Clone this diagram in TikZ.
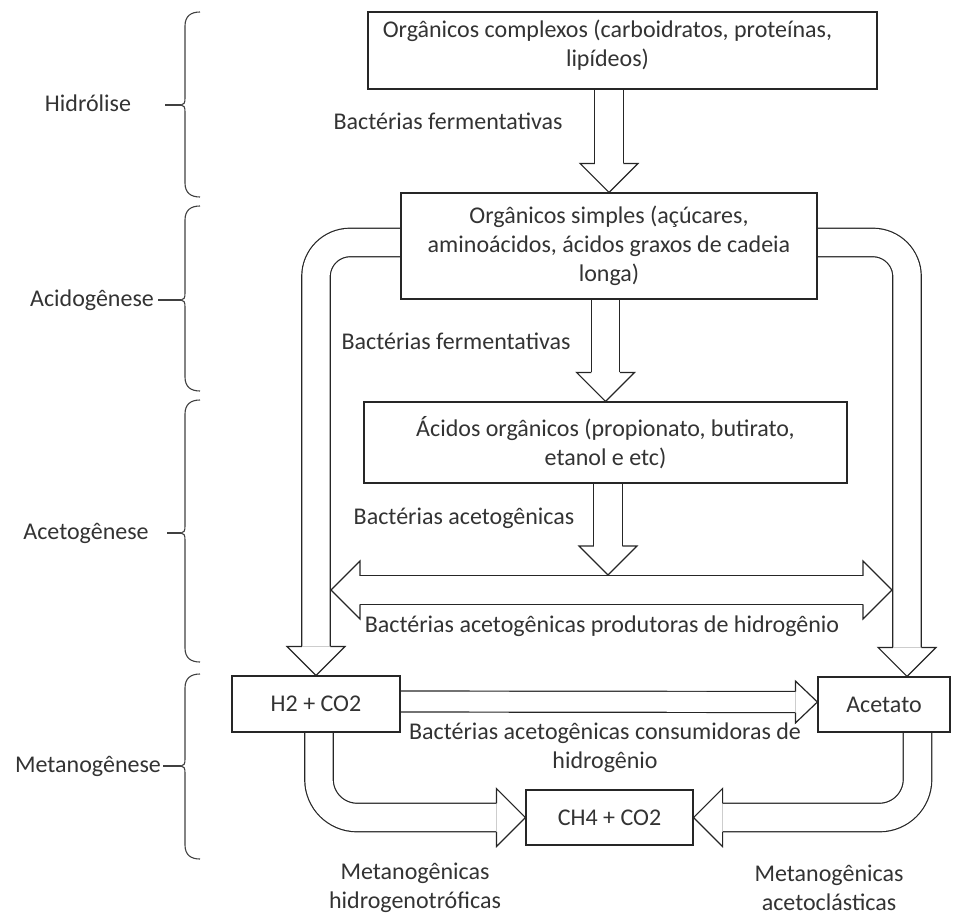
\documentclass[tikz,border=0pt]{standalone}
\usepackage{fontspec}
\setmainfont{Carlito}
\usetikzlibrary{backgrounds}
% chave de fase : topo, meio, base, inicio do traco
\newcommand\fase[4]{%
  \draw[chave] (200,#1) .. controls (191,#1) and (185,#1+4) .. (185,#1+14)
    -- (185,#2-7) .. controls (185,#2-2) and (184,#2) .. (181,#2)
    .. controls (184,#2) and (185,#2+2) .. (185,#2+7)
    -- (185,#3-14) .. controls (185,#3-4) and (191,#3) .. (200,#3);
  \draw[chave] (#4,#2) -- (181,#2);}
\begin{document}
\begin{tikzpicture}[x=1pt,y=-1pt,font=\fontsize{24}{29}\selectfont,text=black!80,
  caixa/.style={draw=black!85,line width=1.2pt,fill=white,inner sep=0pt,align=center},
  texto/.style={inner sep=0pt,align=center},
  linha/.style={texto,text height=18pt,text depth=6pt},
  chave/.style={line width=1.1pt,black!75},
  haste/.style={draw=black!85,line width=1.2pt,double=white,double distance=27.3pt},
  hastefina/.style={haste,double distance=19.8pt},
  ponta/.pic={\draw[line width=1.2pt,black!85,miter limit=20]
    (-29pt,14.25pt) -- (-29pt,29pt) -- (0,0) -- (-29pt,-29pt) -- (-29pt,-14.25pt);},
  pontafina/.pic={\draw[line width=1.2pt,black!85,miter limit=20]
    (-22pt,10.5pt) -- (-22pt,21pt) -- (0,0) -- (-22pt,-21pt) -- (-22pt,-10.5pt);}]
\useasboundingbox (0,0) rectangle (976,921);
%					Fases :
\node[linha] (hidro) at (88,105) {Hidrólise};
\node[linha] (acido) at (92,300) {Acidogênese};
\node[linha] (aceto) at (86,533) {Acetogênese};
\node[linha] (metano) at (88,766) {Metanogênese};
\fase{12}{105}{197}{165}
\fase{206}{300}{391}{158}
\fase{400}{533}{662}{167}
\fase{674}{766}{859}{163}
%					Caixas :
\node[caixa,minimum width=509pt,minimum height=77pt,
  label={[texto,xshift=-15pt,yshift=5pt]center:Orgânicos complexos (carboidratos, proteínas,\\lipídeos)}]
  (b1) at (622.5,50.5) {};
\node[caixa,minimum width=416pt,minimum height=106pt] (b2) at (609,246)
  {Orgânicos simples (açúcares,\\aminoácidos, ácidos graxos de cadeia\\longa)};
\node[caixa,minimum width=483pt,minimum height=81pt] (b3) at (605.5,442.5)
  {Ácidos orgânicos (propionato, butirato,\\etanol e etc)};
\node[caixa,minimum width=168pt,minimum height=56pt] (h2) at (316,704) {H2 + CO2};
\node[caixa,minimum width=132pt,minimum height=55pt] (acet) at (884,704.5) {Acetato};
\node[caixa,minimum width=167pt,minimum height=55pt] (ch4) at (609.5,817.5) {CH4 + CO2};
\coordinate (dm) at (608,575);
\coordinate (duplaE) at (331,590);
\coordinate (duplaD) at (892,590);
%					Setas :
\begin{scope}[on background layer]
\draw[haste] (b2.north |- b1.south) -- ([yshift=29pt]b2.north);
\pic[rotate=-90] at (b2.north) {ponta};
\draw[haste] (b3.north |- b2.south) -- ([yshift=29pt]b3.north);
\pic[rotate=-90] at (b3.north) {ponta};
\draw[haste,rounded corners=34pt] ([yshift=3.5pt]b2.west) -| ([yshift=29pt]h2.north);
\pic[rotate=-90] at (h2.north) {ponta};
\draw[haste,rounded corners=34pt] ([yshift=3.5pt]b2.east) -| ([xshift=23pt,yshift=29pt]acet.north);
\pic[rotate=-90] at ([xshift=23pt]acet.north) {ponta};
\draw[haste] ([xshift=29pt]duplaE) -- ([xshift=-29pt]duplaD);
\pic[rotate=180] at (duplaE) {ponta};
\pic at (duplaD) {ponta};
\draw[haste] (dm |- b3.south) -- ([yshift=29pt]dm);
\pic[rotate=-90] at (dm) {ponta};
\draw[hastefina] ([yshift=2.5pt]h2.east) -- ([xshift=-22pt,yshift=2.5pt]acet.west);
\pic at ([yshift=2.5pt]acet.west) {pontafina};
\draw[haste,rounded corners=38pt] ([xshift=3pt]h2.south) |- ([xshift=-29pt]ch4.west);
\pic at (ch4.west) {ponta};
\draw[haste,rounded corners=38pt] ([xshift=33.5pt]acet.south) |- ([xshift=29pt]ch4.east);
\pic[rotate=180] at (ch4.east) {ponta};
\end{scope}
%					Bacterias :
\node[linha] (fermA) at (448,123) {Bactérias fermentativas};
\node[linha] (fermB) at (456,343) {Bactérias fermentativas};
\node[linha] (acetog) at (464,518) {Bactérias acetogênicas};
\node[linha] (produt) at (602,626) {Bactérias acetogênicas produtoras de hidrogênio};
\node[texto] (consum) at (605,748) {Bactérias acetogênicas consumidoras de\\hidrogênio};
\node[texto] (mhidro) at (415,888) {Metanogênicas\\hidrogenotróficas};
\node[texto] (macet) at (829,888) {Metanogênicas\\acetoclásticas};
\end{tikzpicture}
\end{document}
